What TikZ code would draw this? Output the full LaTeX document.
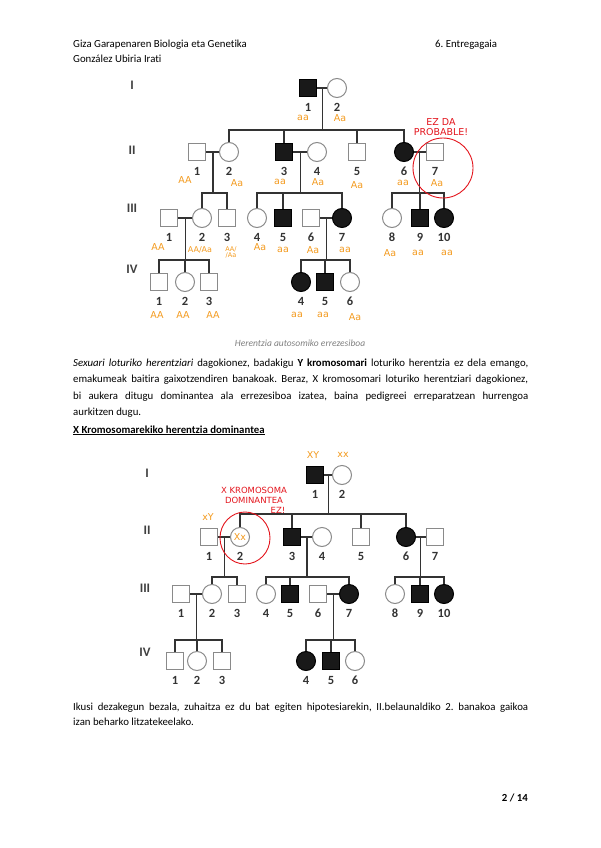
\documentclass[tikz,border=0pt]{standalone}
\usepackage{fontspec}
\setmainfont{Carlito}[Ligatures=NoCommon]
\newfontfamily\handfont{DejaVu Sans}
\usetikzlibrary{calc,positioning}
\definecolor{gorange}{HTML}{F39A1E}
\definecolor{gred}{HTML}{E3141C}
\definecolor{capgray}{HTML}{7F7F7F}
\definecolor{pedgray}{HTML}{8A8A8A}
\frenchspacing
\tikzset{
  % banakoak: gizonezkoa / emakumezkoa
  male/.style={draw=pedgray, line width=1pt, minimum size=17pt, inner sep=0pt, fill=white},
  female/.style={circle, draw=pedgray, line width=1pt, minimum size=19pt, inner sep=0pt,
    fill=white},
  affmale/.style={male, draw=black, fill=black!90},
  afffemale/.style={female, draw=black, fill=black!90},
  % zuhaitzaren lerroak
  pedline/.style={line width=1.3pt, black!80},
  % etiketak
  numlbl/.style={font=\bfseries\fontsize{12.5}{12.5}\selectfont, black!80, inner sep=0pt},
  genlbl/.style={font=\bfseries\fontsize{13}{13}\selectfont, black!75, inner sep=0pt},
  geno/.style={font=\handfont\fontsize{9.5}{9.5}\selectfont, gorange, inner sep=0pt},
  redlbl/.style={font=\handfont\fontsize{8.5}{10}\selectfont, gred, inner sep=0pt, align=center},
  redring/.style={draw=gred, line width=0.9pt},
  % testua
  bodytxt/.style={anchor=base west, inner sep=0pt, font=\fontsize{10.8}{12}\selectfont},
}
\newcommand{\person}[5]{%
  \node[#2] (#1) at (#3,#4) {};
  \node[numlbl] (#1n) at (#3,#4+19) {#5};
}
\newcommand{\jline}[3]{%
  \node[bodytxt] (#1) at (73,#2) {\makebox[455pt][s]{#3}};
}

\begin{document}
\begin{tikzpicture}[x=1pt, y=-1pt]
  \useasboundingbox (0,0) rectangle (600,848);
  % goiburua
  \node[bodytxt] (head1) at (73,48) {Giza Garapenaren Biologia eta Genetika};
  \node[bodytxt] (head2) at (435,48) {6. Entregagaia};
  \node[bodytxt] (head3) at (73,63) {González Ubiria Irati};

  % ---- 1. zuhaitza: herentzia autosomiko errezesiboa ----
  \node[genlbl] (aR1) at (132,85) {I};
  \node[genlbl] (aR2) at (132,150) {II};
  \node[genlbl] (aR3) at (132,208) {III};
  \node[genlbl] (aR4) at (132,269) {IV};
  \person{aI1}{affmale}{308}{88}{1}
  \person{aI2}{female}{337}{88}{2}
  \person{aII1}{male}{197}{152}{1}
  \person{aII2}{female}{229}{152}{2}
  \person{aII3}{affmale}{284}{152}{3}
  \person{aII4}{female}{317}{152}{4}
  \person{aII5}{male}{357}{152}{5}
  \person{aII6}{afffemale}{404}{152}{6}
  \person{aII7}{male}{435}{152}{7}
  \person{aIII1}{male}{169}{218}{1}
  \person{aIII2}{female}{202}{218}{2}
  \person{aIII3}{male}{227}{218}{3}
  \person{aIII4}{female}{257}{218}{4}
  \person{aIII5}{affmale}{283}{218}{5}
  \person{aIII6}{male}{311}{218}{6}
  \person{aIII7}{afffemale}{342}{218}{7}
  \person{aIII8}{female}{392}{218}{8}
  \person{aIII9}{affmale}{420}{218}{9}
  \person{aIII10}{afffemale}{444}{218}{10}
  \person{aIV1}{male}{159}{282}{1}
  \person{aIV2}{female}{185}{282}{2}
  \person{aIV3}{male}{209}{282}{3}
  \person{aIV4}{afffemale}{301}{282}{4}
  \person{aIV5}{affmale}{325}{282}{5}
  \person{aIV6}{female}{350}{282}{6}
  % bikoteak
  \foreach \a/\b in {aI1/aI2, aII1/aII2, aII3/aII4, aII6/aII7, aIII1/aIII2, aIII6/aIII7}
    \draw[pedline] (\a) -- (\b);
  % ondorengoak
  \foreach \a/\b/\f/\y/\l/\r in {aI1/aI2/aF1/130/aII2/aII6, aII1/aII2/aF2/193/aIII2/aIII3,
      aII3/aII4/aF3/193/aIII4/aIII7, aII6/aII7/aF4/193/aIII8/aIII10,
      aIII1/aIII2/aF5/260/aIV1/aIV3, aIII6/aIII7/aF6/260/aIV4/aIV6} {
    \coordinate (\f) at ($(\a)!0.5!(\b)$);
    \draw[pedline] (\f) -- (\f |- 0,\y);
    \draw[pedline] (\l.north) |- (\r.north |- 0,\y) -- (\r.north);
  }
  \foreach \c/\y in {aII3/130, aII5/130, aIII5/193, aIII9/193, aIV2/260, aIV5/260}
    \draw[pedline] (\c.north) -- (\c.north |- 0,\y);
  % genotipoak
  \node[geno] (gaI1) at (303,118) {aa};
  \node[geno] (gaI2) at (340,118) {Aa};
  \node[geno] (gaII1) at (185,180) {AA};
  \node[geno] (gaII2) at (237,183) {Aa};
  \node[geno] (gaII3) at (280,182) {aa};
  \node[geno] (gaII4) at (318,182) {Aa};
  \node[geno] (gaII5) at (357,185) {Aa};
  \node[geno] (gaII6) at (403,183) {aa};
  \node[geno] (gaII7) at (437,183) {Aa};
  \node[geno] (gaIII1) at (158,247) {AA};
  \node[geno, font=\handfont\fontsize{8}{8}\selectfont] (gaIII2) at (200,250) {AA/Aa};
  \node[geno, align=center, font=\handfont\fontsize{6.5}{6}\selectfont] (gaIII3) at (231,252) {AA/\\/Aa};
  \node[geno] (gaIII4) at (260,247) {Aa};
  \node[geno] (gaIII5) at (283,250) {aa};
  \node[geno] (gaIII6) at (313,250) {Aa};
  \node[geno] (gaIII7) at (345,250) {aa};
  \node[geno] (gaIII8) at (390,253) {Aa};
  \node[geno] (gaIII9) at (418,253) {aa};
  \node[geno] (gaIII10) at (447,253) {aa};
  \node[geno] (gaIV1) at (157,315) {AA};
  \node[geno] (gaIV2) at (183,315) {AA};
  \node[geno] (gaIV3) at (213,315) {AA};
  \node[geno] (gaIV4) at (297,315) {aa};
  \node[geno] (gaIV5) at (323,315) {aa};
  \node[geno] (gaIV6) at (355,317) {Aa};
  % oharra
  \draw[redring] (443,168) circle (30);
  \node[redlbl, font=\handfont\fontsize{9.5}{10.5}\selectfont] (aNote) at (441,127) {EZ DA\\PROBABLE!};
  \node[font=\itshape\fontsize{9.5}{9.5}\selectfont, capgray, inner sep=0pt] (aCap) at (300,343)
    {Herentzia autosomiko errezesiboa};

  % testua
  \jline{p1}{366}{\textit{Sexuari loturiko herentziari} dagokionez, badakigu \textbf{Y kromosomari} loturiko herentzia ez dela emango,}
  \jline{p2}{382.5}{emakumeak baitira gaixotzendiren banakoak. Beraz, X kromosomari loturiko herentziari dagokionez,}
  \jline{p3}{399}{bi aukera ditugu dominantea ala errezesiboa izatea, baina pedigreei erreparatzean hurrengoa}
  \node[bodytxt] (p4) at (73,415.5) {aurkitzen dugu.};
  \node[bodytxt] (xhead) at (73,433) {\textbf{\underline{X Kromosomarekiko herentzia dominantea}}};

  % ---- 2. zuhaitza: X kromosomarekiko herentzia dominantea ----
  \node[genlbl] (bR1) at (147,473) {I};
  \node[genlbl] (bR2) at (147,530) {II};
  \node[genlbl] (bR3) at (145,588) {III};
  \node[genlbl] (bR4) at (145,652) {IV};
  \person{bI1}{affmale}{315}{475}{1}
  \person{bI2}{female}{342}{475}{2}
  \person{bII1}{male}{209}{537}{1}
  \person{bII2}{female}{240}{537}{2}
  \person{bII3}{affmale}{292}{537}{3}
  \person{bII4}{female}{322}{537}{4}
  \person{bII5}{male}{361}{537}{5}
  \person{bII6}{afffemale}{406}{537}{6}
  \person{bII7}{male}{435}{537}{7}
  \person{bIII1}{male}{181}{594}{1}
  \person{bIII2}{female}{212}{594}{2}
  \person{bIII3}{male}{237}{594}{3}
  \person{bIII4}{female}{266}{594}{4}
  \person{bIII5}{affmale}{290}{594}{5}
  \person{bIII6}{male}{318}{594}{6}
  \person{bIII7}{afffemale}{349}{594}{7}
  \person{bIII8}{female}{395}{594}{8}
  \person{bIII9}{affmale}{420}{594}{9}
  \person{bIII10}{afffemale}{444}{594}{10}
  \person{bIV1}{male}{175}{661}{1}
  \person{bIV2}{female}{197}{661}{2}
  \person{bIV3}{male}{222}{661}{3}
  \person{bIV4}{afffemale}{306}{661}{4}
  \person{bIV5}{affmale}{331}{661}{5}
  \person{bIV6}{female}{355}{661}{6}
  \foreach \a/\b in {bI1/bI2, bII1/bII2, bII3/bII4, bII6/bII7, bIII1/bIII2, bIII6/bIII7}
    \draw[pedline] (\a) -- (\b);
  \foreach \a/\b/\f/\y/\l/\r in {bI1/bI2/bF1/514/bII2/bII6, bII1/bII2/bF2/577/bIII2/bIII3,
      bII3/bII4/bF3/577/bIII4/bIII7, bII6/bII7/bF4/577/bIII8/bIII10,
      bIII1/bIII2/bF5/640/bIV1/bIV3, bIII6/bIII7/bF6/640/bIV4/bIV6} {
    \coordinate (\f) at ($(\a)!0.5!(\b)$);
    \draw[pedline] (\f) -- (\f |- 0,\y);
    \draw[pedline] (\l.north) |- (\r.north |- 0,\y) -- (\r.north);
  }
  \foreach \c/\y in {bII3/514, bII5/514, bIII5/577, bIII9/577, bIV2/640, bIV5/640}
    \draw[pedline] (\c.north) -- (\c.north |- 0,\y);
  \node[geno] (gbI1) at (313,455) {XY};
  \node[geno] (gbI2) at (343,455) {xx};
  \node[geno] (gbII1) at (208,517) {xY};
  \node[geno] (gbII2) at (240,537) {Xx};
  \draw[redring] (245,538) ellipse (25 and 26);
  \node[redlbl] (bNote) at (254,495) {X KROMOSOMA\\DOMINANTEA};
  \node[redlbl] (bNote2) at (278,510) {EZ!};

  % ondorioa
  \jline{q1}{710}{Ikusi dezakegun bezala, zuhaitza ez du bat egiten hipotesiarekin, II.belaunaldiko 2. banakoa gaikoa}
  \node[bodytxt] (q2) at (73,725) {izan beharko litzatekeelako.};
  \node[bodytxt, anchor=base east] (pg) at (528,801) {\textbf{2 / 14}};
\end{tikzpicture}
\end{document}
